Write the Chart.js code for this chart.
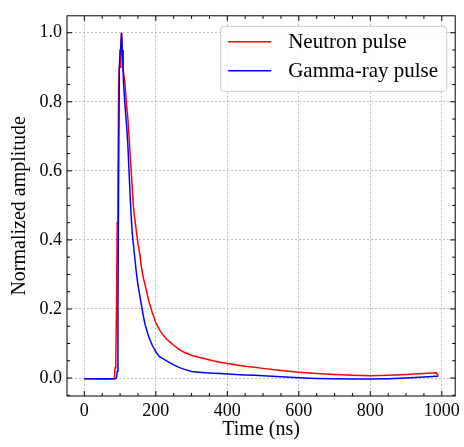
<!DOCTYPE html>
<html>
<head>
<meta charset="utf-8">
<script src="https://cdn.jsdelivr.net/npm/chart.js@4.4.1/dist/chart.umd.min.js"></script>
<style>
  html, body { margin: 0; padding: 0; background: #fff; }
  #wrap { width: 464px; height: 447px; }
</style>
</head>
<body>
<div id="wrap"><canvas id="pulse-chart" width="464" height="447"></canvas></div>
<script>
// Data
var timeNs = [0, 20, 40, 60, 80, 84, 86, 88, 90, 92, 94, 96, 98, 100, 102, 104, 106, 108, 110, 113,
  116, 119, 122, 125, 128, 131, 134, 137, 140, 145, 150, 155, 160, 165, 170, 180, 190, 200, 210, 220,
  230, 240, 250, 265, 280, 300, 320, 340, 360, 380, 400, 425, 450, 475, 500, 550, 600, 650, 700, 750,
  800, 850, 900, 950, 985, 990];

var neutronPulse = [-0.002, -0.002, -0.003, -0.003, -0.002, -0.002, 0.03, 0.06, 0.2, 0.45, 0.55, 0.85, 0.9, 0.9, 0.95, 1.0, 0.95, 0.9, 0.88, 0.86,
  0.82, 0.78, 0.75, 0.7, 0.65, 0.6, 0.55, 0.5, 0.47, 0.43, 0.39, 0.36, 0.32, 0.29, 0.27, 0.225, 0.19, 0.16, 0.14, 0.125,
  0.113, 0.104, 0.095, 0.083, 0.074, 0.066, 0.06, 0.055, 0.05, 0.046, 0.042, 0.038, 0.034, 0.031, 0.028, 0.022, 0.017, 0.013, 0.01, 0.008,
  0.007, 0.008, 0.01, 0.013, 0.015, 0.006];

var gammaPulse = [-0.002, -0.002, -0.002, -0.002, -0.002, -0.002, -0.002, -0.002, 0.0, 0.02, 0.2, 0.6, 0.9, 0.95, 0.96, 1.0, 0.95, 0.9, 0.85, 0.8,
  0.76, 0.72, 0.67, 0.6, 0.53, 0.47, 0.42, 0.39, 0.36, 0.31, 0.27, 0.24, 0.21, 0.18, 0.155, 0.12, 0.095, 0.076, 0.062, 0.056,
  0.05, 0.044, 0.038, 0.031, 0.025, 0.019, 0.017, 0.015, 0.014, 0.013, 0.012, 0.01, 0.009, 0.008, 0.007, 0.004, 0.001, -0.001, -0.002, -0.003,
  -0.003, -0.002, 0.0, 0.003, 0.005, 0.005];

var seriesNames = ['Neutron pulse', 'Gamma-ray pulse'];
var seriesColors = ['#ff0000', '#0000ff'];

var xTicks = [0, 200, 400, 600, 800, 1000];
var yTicks = [0.0, 0.2, 0.4, 0.6, 0.8, 1.0];
var xMinorStep = 50;
var yMinorStep = 0.05;

var serif = 'Liberation Serif';

function toPoints(values) {
  return timeNs.map(function (t, i) { return { x: t, y: values[i] }; });
}

// frame with inward major/minor ticks on all four sides
var frameTicks = {
  id: 'frameTicks',
  afterDatasetsDraw: function (chart) {
    var ctx = chart.ctx, a = chart.chartArea;
    var xs = chart.scales.x, ys = chart.scales.y;
    ctx.save();
    ctx.strokeStyle = '#000';
    ctx.lineWidth = 1;
    function seg(x1, y1, x2, y2) {
      ctx.beginPath(); ctx.moveTo(x1, y1); ctx.lineTo(x2, y2); ctx.stroke();
    }
    for (var k = -2; k <= 22; k++) {
      var px = xs.getPixelForValue(k * xMinorStep);
      if (px < a.left || px > a.right) continue;
      var len = (k % 4 === 0) ? 5 : 3;
      seg(px, a.bottom, px, a.bottom - len);
      seg(px, a.top, px, a.top + len);
    }
    for (var j = -2; j <= 22; j++) {
      var py = ys.getPixelForValue(j * yMinorStep);
      if (py < a.top || py > a.bottom) continue;
      var l2 = (j % 4 === 0) ? 5 : 3;
      seg(a.left, py, a.left + l2, py);
      seg(a.right, py, a.right - l2, py);
    }
    ctx.strokeRect(a.left, a.top, a.right - a.left, a.bottom - a.top);
    ctx.restore();
  }
};

// legend box in upper right corner
var boxLegend = {
  id: 'boxLegend',
  afterDraw: function (chart) {
    var ctx = chart.ctx, a = chart.chartArea;
    var w = 226, h = 65;
    var x = a.right - 9 - w, y = a.top + 10;
    ctx.save();
    ctx.beginPath();
    ctx.roundRect(x + 0.5, y + 0.5, w, h, 3);
    ctx.fillStyle = 'rgba(255,255,255,0.85)';
    ctx.fill();
    ctx.strokeStyle = '#cccccc';
    ctx.lineWidth = 1;
    ctx.stroke();
    ctx.font = '21px "' + serif + '"';
    ctx.textBaseline = 'middle';
    ctx.fillStyle = '#000';
    for (var i = 0; i < seriesNames.length; i++) {
      var ry = y + 16 + i * 29;
      ctx.strokeStyle = seriesColors[i];
      ctx.lineWidth = 1.5;
      ctx.beginPath();
      ctx.moveTo(x + 8, ry);
      ctx.lineTo(x + 51, ry);
      ctx.stroke();
      ctx.fillText(seriesNames[i], x + 68, ry + 1);
    }
    ctx.restore();
  }
};

var pulseChart = new Chart(document.getElementById('pulse-chart'), {
  type: 'line',
  data: {
    datasets: [{
      label: seriesNames[0],
      data: toPoints(neutronPulse),
      borderColor: seriesColors[0],
      borderWidth: 1.5,
      pointRadius: 0,
      tension: 0,
      fill: false,
      order: 1
    }, {
      label: seriesNames[1],
      data: toPoints(gammaPulse),
      borderColor: seriesColors[1],
      borderWidth: 1.5,
      pointRadius: 0,
      tension: 0,
      fill: false,
      order: 0
    }]
  },
  options: {
    responsive: false,
    animation: false,
    devicePixelRatio: 1,
    layout: { padding: { top: 7, right: 6, left: 0, bottom: 0 } },
    plugins: {
      legend: { display: false },
      tooltip: { enabled: false }
    },
    scales: {
      x: {
        type: 'linear',
        min: -48.5,
        max: 1037.5,
        afterBuildTicks: function (s) {
          s.ticks = xTicks.map(function (v) { return { value: v }; });
        },
        afterFit: function (s) { s.height = 51; },
        grid: { color: '#b0b0b0', lineWidth: 0.8, drawTicks: false },
        border: { display: false, dash: [2, 2] },
        ticks: {
          font: { family: serif, size: 18 },
          color: '#000',
          padding: 4,
          maxRotation: 0,
          autoSkip: false,
          callback: function (v) { return String(v); }
        },
        title: {
          display: true,
          text: 'Time (ns)',
          font: { family: serif, size: 20 },
          color: '#000',
          padding: { top: 0, bottom: 5 }
        }
      },
      y: {
        min: -0.052,
        max: 1.049,
        afterBuildTicks: function (s) {
          s.ticks = yTicks.map(function (v) { return { value: v }; });
        },
        afterFit: function (s) { s.width = 67; },
        grid: { color: '#b0b0b0', lineWidth: 0.8, drawTicks: false },
        border: { display: false, dash: [2, 2] },
        ticks: {
          font: { family: serif, size: 18 },
          color: '#000',
          padding: 5,
          callback: function (v) { return Number(v).toFixed(1); }
        },
        title: {
          display: true,
          text: 'Normalized amplitude',
          font: { family: serif, size: 20 },
          color: '#000',
          padding: { top: 8, bottom: 0 }
        }
      }
    }
  },
  plugins: [frameTicks, boxLegend]
});
</script>
</body>
</html>
